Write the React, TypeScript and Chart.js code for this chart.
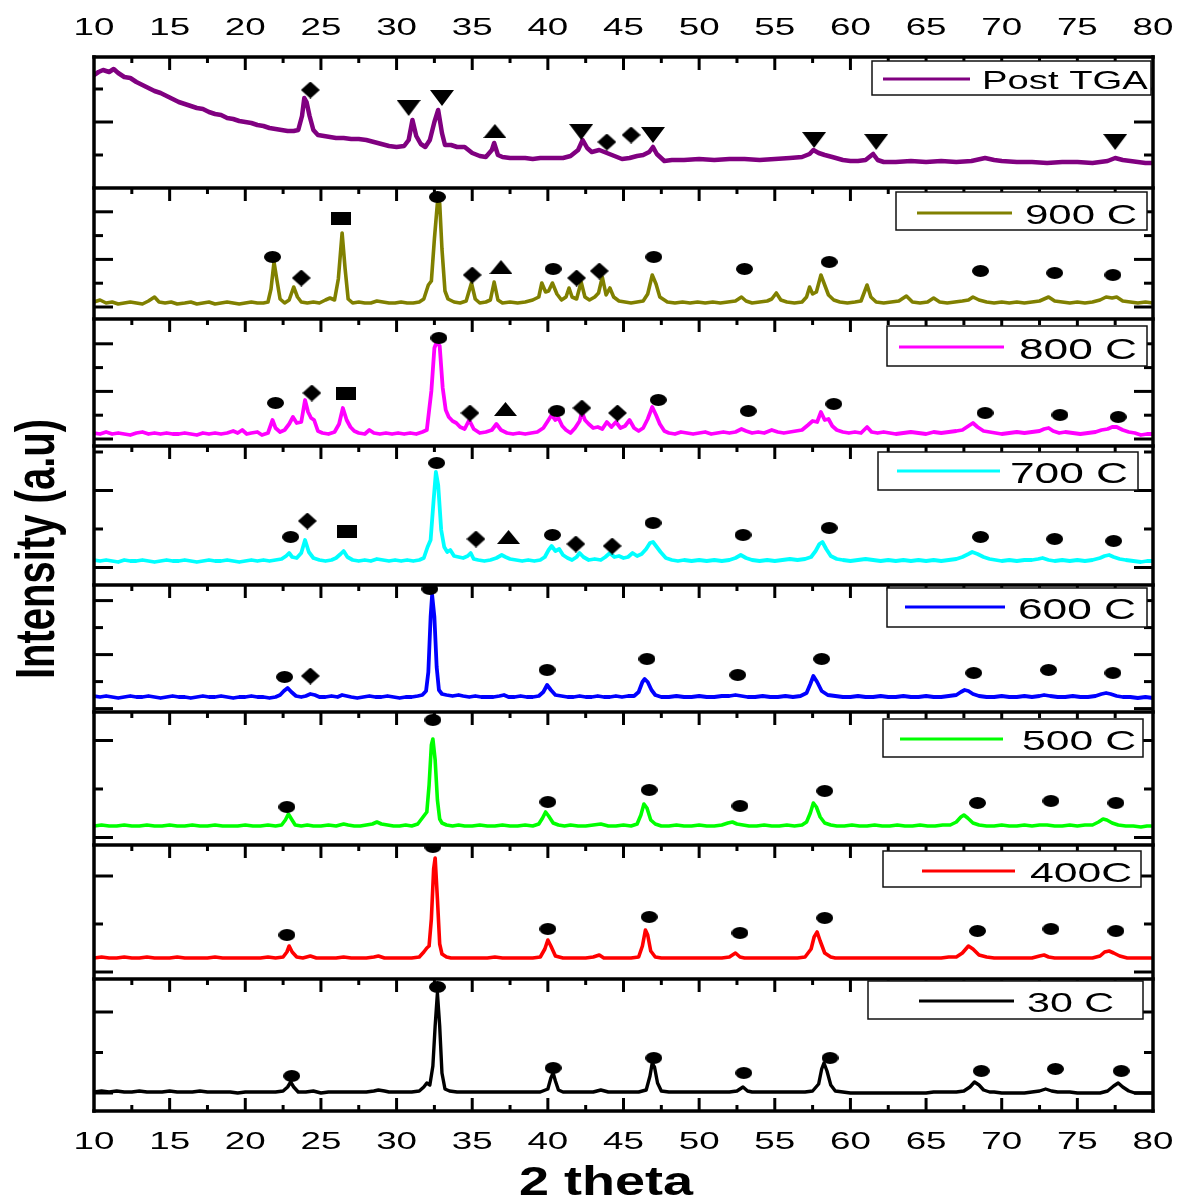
import { useEffect, useRef } from 'react';
import { Chart, registerables } from 'chart.js';

Chart.register(...registerables);

type Pt = [number, number];
type Mark = [number, number, string];

// 2θ tick labels (degrees)
const thetaTicks = [10, 15, 20, 25, 30, 35, 40, 45, 50, 55, 60, 65, 70, 75, 80];

// Diffraction patterns: [2θ, intensity a.u. above each panel's floor]
const postTGA: Pt[] = [
  [10,113],[10.3,116],[10.6,118],[11,116],[11.3,119],[11.6,115],[12,111],[12.4,110],[12.8,106],[13.2,103],[13.6,100],[14,97],[14.4,95],[14.8,92],[15.2,89],[15.6,86],[16,84],[16.4,82],[16.8,80],[17.2,79],[17.6,76],[18,74],[18.4,73],[18.8,70],[19.2,69],[19.6,67],[20,66],[20.4,65],[20.8,63],[21.2,62],[21.6,60],[22,59],[22.4,58],[22.8,57],[23.2,57],[23.5,58],[23.75,72],[23.9,90],[24.05,86],[24.25,72],[24.5,58],[24.8,53],[25.2,52],[25.6,51],[26,50],[26.5,50],[27,49],[27.5,49],[28,48],[28.5,46],[29,44],[29.5,42],[30,41],[30.5,42],[30.8,48],[31.05,68],[31.3,52],[31.6,44],[31.9,41],[32.2,48],[32.5,66],[32.75,78],[33.0,55],[33.2,43],[33.6,43],[34.0,41],[34.5,41],[35.0,35],[35.5,32],[35.9,31],[36.3,38],[36.45,45],[36.7,33],[37,31],[37.5,30],[38,30],[38.5,30],[39,29],[39.5,30],[40,30],[40.5,30],[41,30],[41.5,32],[42.0,38],[42.3,48],[42.6,40],[42.9,36],[43.4,38],[43.9,35],[44.4,32],[44.9,29],[45.4,30],[45.9,32],[46.3,33],[46.7,36],[46.95,41],[47.2,34],[47.7,27],[48.2,28],[49,28],[50,29],[51,28],[52,29],[53,29],[54,28],[55,29],[56,30],[56.8,31],[57.3,34],[57.55,38],[57.9,35],[58.3,33],[58.8,31],[59.5,28],[60,27],[60.5,27],[61,28],[61.5,34],[61.8,28],[62.2,26],[63,26],[64,27],[65,26],[66,27],[67,26],[68,27],[68.9,30],[69.5,28],[70,27],[71,26],[72,26],[73,25],[74,26],[75,26],[76,25],[77,27],[77.5,30],[78,28],[78.5,27],[79,26],[79.5,25],[80,25]
];

const c900: Pt[] = [
  [10,17],[10.4,19],[10.8,16],[11.2,17],[11.6,15],[12,16],[12.4,17],[12.8,16],[13.2,15],[13.6,18],[14.0,22],[14.3,17],[14.7,16],[15.1,17],[15.5,15],[16,16],[16.4,17],[16.8,15],[17.2,16],[17.6,17],[18,15],[18.4,16],[18.8,17],[19.2,16],[19.6,15],[20,16],[20.4,17],[20.8,16],[21.2,16],[21.5,17],[21.7,30],[21.9,57],[22.1,38],[22.3,20],[22.6,16],[22.9,19],[23.2,32],[23.45,22],[23.7,17],[24.1,16],[24.5,17],[24.9,16],[25.3,19],[25.6,21],[25.9,19],[26.15,40],[26.4,86],[26.6,50],[26.8,20],[27.1,16],[27.5,17],[27.9,16],[28.3,16],[28.7,18],[29.1,17],[29.5,16],[29.9,16],[30.3,17],[30.7,16],[31.1,16],[31.5,17],[31.8,20],[32.1,34],[32.3,38],[32.5,80],[32.7,116],[32.85,116],[33.0,70],[33.2,28],[33.4,20],[33.8,17],[34.2,16],[34.6,18],[34.95,36],[35.2,20],[35.5,16],[35.9,17],[36.2,19],[36.45,37],[36.7,19],[37.0,16],[37.5,17],[38,16],[38.5,17],[39,19],[39.4,22],[39.6,36],[39.85,27],[40.05,28],[40.3,36],[40.6,25],[40.9,19],[41.2,22],[41.4,31],[41.6,22],[41.9,20],[42.2,37],[42.45,22],[42.75,19],[43.1,22],[43.35,26],[43.6,42],[43.85,24],[44.1,31],[44.35,22],[44.7,18],[45.1,17],[45.5,16],[45.9,17],[46.3,18],[46.6,25],[46.9,44],[47.15,35],[47.4,22],[47.9,17],[48.4,16],[48.9,17],[49.4,16],[49.9,17],[50.4,16],[50.9,17],[51.4,16],[51.9,17],[52.4,18],[52.8,22],[53.1,18],[53.5,16],[54,17],[54.5,18],[54.8,20],[55.1,26],[55.4,19],[55.8,17],[56.3,16],[56.8,17],[57.1,22],[57.3,32],[57.5,25],[57.75,27],[58.05,44],[58.3,34],[58.55,24],[58.9,19],[59.3,17],[59.8,16],[60.3,17],[60.7,18],[61.1,34],[61.35,22],[61.7,17],[62.2,16],[62.7,17],[63.2,18],[63.7,23],[64.1,17],[64.6,16],[65.1,17],[65.5,21],[65.9,17],[66.4,16],[66.9,17],[67.4,18],[67.8,19],[68.1,22],[68.5,19],[69,17],[69.5,16],[70,17],[70.5,16],[71,17],[71.5,16],[72,17],[72.5,18],[73.1,22],[73.5,18],[74,17],[74.5,16],[75,17],[75.5,16],[76,17],[76.5,19],[76.9,22],[77.3,21],[77.6,22],[78,18],[78.5,17],[79,16],[79.5,17],[80,16]
];

const c800: Pt[] = [
  [10,13],[10.4,12],[10.8,14],[11.2,12],[11.6,13],[12,12],[12.4,11],[12.8,13],[13.2,14],[13.6,12],[14,13],[14.4,12],[14.8,13],[15.2,12],[15.6,12],[16,13],[16.4,12],[16.8,11],[17.2,13],[17.6,12],[18,13],[18.4,12],[18.8,13],[19.2,15],[19.5,13],[19.8,16],[20.1,12],[20.4,13],[20.8,14],[21.1,11],[21.5,13],[21.8,26],[22.0,18],[22.3,14],[22.6,16],[22.9,22],[23.15,29],[23.4,23],[23.7,24],[23.95,46],[24.15,34],[24.35,28],[24.55,26],[24.8,15],[25.1,13],[25.5,12],[25.9,14],[26.2,22],[26.45,38],[26.7,26],[26.95,19],[27.2,15],[27.5,13],[27.9,12],[28.2,16],[28.5,13],[28.9,12],[29.3,13],[29.7,12],[30.1,13],[30.5,12],[30.9,13],[31.3,12],[31.7,14],[32.0,16],[32.3,55],[32.5,98],[32.65,104],[32.85,100],[33.05,58],[33.25,36],[33.45,29],[33.7,25],[33.95,23],[34.2,19],[34.5,17],[34.8,26],[35.1,17],[35.5,13],[35.9,14],[36.3,16],[36.6,22],[36.9,16],[37.3,13],[37.7,12],[38.1,13],[38.5,12],[38.9,13],[39.3,14],[39.7,18],[40.0,25],[40.25,31],[40.5,26],[40.7,28],[40.95,20],[41.2,16],[41.5,13],[41.8,18],[42.1,25],[42.25,34],[42.45,26],[42.7,22],[43.0,18],[43.3,19],[43.6,17],[43.9,24],[44.2,19],[44.5,24],[44.8,18],[45.1,20],[45.4,26],[45.7,18],[46.0,15],[46.3,18],[46.6,27],[46.9,39],[47.15,31],[47.4,22],[47.7,15],[48,13],[48.4,12],[48.8,14],[49.2,13],[49.6,12],[50,13],[50.4,14],[50.8,12],[51.2,13],[51.6,14],[52,13],[52.4,14],[52.8,17],[53.1,15],[53.5,13],[53.9,14],[54.3,13],[54.8,16],[55.2,14],[55.6,13],[56,14],[56.4,15],[56.8,16],[57.2,21],[57.5,25],[57.8,24],[58.05,34],[58.3,26],[58.55,27],[58.8,20],[59.1,16],[59.5,14],[59.9,13],[60.3,14],[60.7,13],[61.1,19],[61.4,14],[61.8,13],[62.2,14],[62.6,13],[63,12],[63.5,13],[64,14],[64.5,13],[65,12],[65.5,14],[66,13],[66.5,14],[67,15],[67.4,16],[67.8,20],[68.1,23],[68.4,19],[68.8,15],[69.2,14],[69.6,13],[70,12],[70.5,13],[71,14],[71.5,13],[72,14],[72.5,15],[72.8,17],[73.1,18],[73.4,15],[73.8,13],[74.2,14],[74.7,13],[75.2,12],[75.7,13],[76.2,14],[76.6,16],[77,17],[77.3,19],[77.6,19],[78,16],[78.4,14],[78.8,13],[79.2,11],[79.6,12],[80,12]
];

const c700: Pt[] = [
  [10,25],[10.4,24],[10.8,25],[11.2,24],[11.6,23],[12,25],[12.4,24],[12.8,24],[13.2,25],[13.6,24],[14,23],[14.4,24],[14.8,25],[15.2,24],[15.6,24],[16,25],[16.4,24],[16.8,23],[17.2,24],[17.6,25],[18,24],[18.4,24],[18.8,25],[19.2,24],[19.6,23],[20,24],[20.4,25],[20.8,24],[21.2,25],[21.6,24],[22,25],[22.4,26],[22.7,29],[22.9,32],[23.1,28],[23.4,27],[23.7,32],[23.95,45],[24.2,33],[24.5,27],[24.9,25],[25.3,24],[25.7,25],[26.0,27],[26.3,31],[26.5,34],[26.75,28],[27.1,25],[27.5,24],[27.9,25],[28.3,24],[28.7,26],[29.1,25],[29.5,24],[29.9,25],[30.3,24],[30.7,25],[31.1,24],[31.5,25],[31.8,27],[32.05,38],[32.25,45],[32.45,85],[32.6,113],[32.75,100],[32.95,55],[33.15,38],[33.35,33],[33.55,35],[33.8,29],[34.1,28],[34.4,27],[34.7,29],[34.9,32],[35.1,26],[35.4,25],[35.8,24],[36.2,25],[36.6,27],[36.95,30],[37.2,28],[37.5,26],[37.9,25],[38.3,24],[38.7,25],[39.1,24],[39.5,25],[39.8,28],[40.05,35],[40.25,39],[40.5,34],[40.75,36],[41.0,30],[41.3,27],[41.6,25],[41.9,28],[42.1,32],[42.35,28],[42.7,25],[43.1,26],[43.5,25],[43.8,28],[44.1,32],[44.4,28],[44.7,29],[45.0,27],[45.3,28],[45.6,32],[45.9,29],[46.2,31],[46.5,36],[46.75,42],[46.95,43],[47.2,38],[47.45,33],[47.8,27],[48.2,25],[48.6,24],[49,25],[49.5,24],[50,25],[50.5,24],[51,25],[51.5,24],[52,25],[52.4,27],[52.75,30],[53.1,27],[53.5,25],[54,24],[54.5,25],[55,24],[55.5,25],[56,26],[56.5,25],[57,26],[57.4,28],[57.7,34],[57.95,41],[58.15,43],[58.4,36],[58.7,29],[59.1,26],[59.5,25],[60,24],[60.5,25],[61,26],[61.5,25],[62,24],[62.5,25],[63,24],[63.5,25],[64,24],[64.5,25],[65,24],[65.5,25],[66,24],[66.5,25],[67,26],[67.4,28],[67.8,31],[68.05,33],[68.4,31],[68.8,28],[69.2,26],[69.6,25],[70,24],[70.5,25],[71,24],[71.5,25],[72,25],[72.4,26],[72.7,27],[73.1,25],[73.5,24],[74,25],[74.5,24],[75,25],[75.5,24],[76,25],[76.5,27],[76.8,29],[77.1,30],[77.4,28],[77.8,26],[78.2,25],[78.7,24],[79.2,23],[79.6,24],[80,24]
];

const c600: Pt[] = [
  [10,16],[10.4,15],[10.8,16],[11.2,15],[11.6,14],[12,15],[12.4,16],[12.8,15],[13.2,15],[13.6,16],[14,15],[14.4,14],[14.8,15],[15.2,16],[15.6,15],[16,15],[16.4,14],[16.8,15],[17.2,16],[17.6,15],[18,15],[18.4,16],[18.8,15],[19.2,14],[19.6,15],[20,15],[20.4,16],[20.8,15],[21.2,15],[21.6,14],[22,15],[22.3,17],[22.55,21],[22.8,24],[23.05,20],[23.35,16],[23.7,15],[24.0,16],[24.3,18],[24.6,17],[24.9,15],[25.3,15],[25.7,16],[26.1,15],[26.4,17],[26.7,16],[27.0,15],[27.4,14],[27.8,15],[28.2,16],[28.6,15],[29,15],[29.4,16],[29.8,15],[30.2,14],[30.6,15],[31,15],[31.4,16],[31.7,17],[31.95,21],[32.1,40],[32.25,95],[32.35,117],[32.5,95],[32.65,45],[32.8,22],[33.0,18],[33.3,17],[33.7,16],[34.1,17],[34.4,16],[34.8,15],[35.2,16],[35.6,15],[36.0,15],[36.4,15],[36.8,16],[37.1,17],[37.4,15],[37.8,15],[38.2,16],[38.6,15],[39.0,15],[39.4,16],[39.7,20],[39.95,27],[40.2,22],[40.5,17],[40.9,16],[41.3,15],[41.7,15],[42.1,16],[42.5,15],[42.9,15],[43.3,16],[43.7,15],[44.1,15],[44.5,16],[44.9,15],[45.3,16],[45.7,16],[46.0,20],[46.25,30],[46.4,33],[46.6,30],[46.85,22],[47.1,17],[47.5,15],[48,15],[48.5,16],[49,15],[49.5,15],[50,16],[50.5,15],[51,15],[51.5,16],[52,16],[52.4,17],[52.8,16],[53.2,15],[53.7,15],[54.2,16],[54.7,15],[55.2,15],[55.7,16],[56.2,15],[56.7,16],[57.1,19],[57.35,28],[57.55,36],[57.8,30],[58.1,21],[58.5,17],[59,16],[59.5,15],[60,15],[60.5,16],[61,15],[61.5,15],[62,16],[62.5,15],[63,15],[63.5,16],[64,15],[64.5,15],[65,16],[65.5,15],[66,15],[66.5,16],[67,17],[67.3,20],[67.55,22],[67.8,21],[68.1,18],[68.5,16],[69,15],[69.5,15],[70,16],[70.5,15],[71,15],[71.5,16],[72,15],[72.5,16],[72.8,17],[73.2,16],[73.7,15],[74.2,15],[74.7,16],[75.2,15],[75.7,15],[76.2,16],[76.6,18],[76.9,19],[77.2,18],[77.6,16],[78,15],[78.5,15],[79,14],[79.5,15],[80,14]
];

const c500: Pt[] = [
  [10,19],[10.5,20],[11,19],[11.5,19],[12,20],[12.5,19],[13,19],[13.5,20],[14,19],[14.5,19],[15,20],[15.5,19],[16,19],[16.5,20],[17,19],[17.5,19],[18,20],[18.5,19],[19,19],[19.5,19],[20,20],[20.5,19],[21,19],[21.5,20],[22,19],[22.4,20],[22.65,25],[22.85,31],[23.05,26],[23.3,20],[23.7,19],[24.1,20],[24.5,19],[25,19],[25.5,20],[26,19],[26.5,21],[26.8,20],[27.2,19],[27.6,19],[28,20],[28.4,21],[28.7,23],[29.0,21],[29.4,20],[29.8,19],[30.2,19],[30.6,20],[31.0,19],[31.4,21],[31.7,27],[31.85,30],[32.0,33],[32.15,60],[32.3,100],[32.4,106],[32.55,85],[32.7,45],[32.85,26],[33.0,22],[33.3,20],[33.7,19],[34.1,20],[34.5,19],[35,19],[35.5,20],[36,19],[36.5,19],[37,20],[37.5,19],[38,19],[38.5,20],[39,19],[39.4,21],[39.65,27],[39.85,33],[40.05,29],[40.35,22],[40.7,20],[41.1,19],[41.5,20],[42,19],[42.5,19],[43,20],[43.5,21],[44,19],[44.5,19],[45,20],[45.5,19],[45.9,21],[46.15,30],[46.35,41],[46.55,37],[46.8,25],[47.1,21],[47.5,19],[48,19],[48.5,20],[49,19],[49.5,19],[50,20],[50.5,19],[51,19],[51.5,20],[51.9,22],[52.2,23],[52.5,21],[52.9,20],[53.3,19],[53.8,19],[54.3,20],[54.8,19],[55.3,19],[55.8,20],[56.3,19],[56.8,20],[57.1,23],[57.35,32],[57.55,42],[57.75,38],[58.0,28],[58.3,22],[58.7,20],[59.1,19],[59.6,19],[60.1,20],[60.6,19],[61.1,19],[61.6,20],[62.1,19],[62.6,19],[63.1,20],[63.6,19],[64.1,19],[64.6,20],[65.1,19],[65.6,19],[66.1,20],[66.6,20],[67.0,23],[67.3,28],[67.5,30],[67.75,27],[68.1,22],[68.5,20],[69,19],[69.5,19],[70,20],[70.5,19],[71,19],[71.5,20],[72,19],[72.5,20],[73,20],[73.5,19],[74,19],[74.5,20],[75,19],[75.5,20],[76,20],[76.4,23],[76.7,26],[76.95,25],[77.3,22],[77.7,20],[78.2,19],[78.7,19],[79.2,18],[79.6,19],[80,19]
];

const c400: Pt[] = [
  [10,21],[10.5,22],[11,21],[11.5,21],[12,22],[12.5,21],[13,21],[13.5,22],[14,21],[14.5,21],[15,21],[15.5,22],[16,21],[16.5,21],[17,21],[17.5,21],[18,22],[18.5,21],[19,21],[19.5,21],[20,21],[20.5,21],[21,21],[21.5,22],[22,21],[22.5,22],[22.75,27],[22.9,33],[23.1,27],[23.4,22],[23.8,21],[24.3,23],[24.7,21],[25,21],[25.5,21],[26,21],[26.5,22],[27,21],[27.5,21],[28,21],[28.5,22],[28.8,23],[29.2,21],[29.5,21],[30,21],[30.5,21],[31,21],[31.5,22],[31.8,27],[32.0,31],[32.15,33],[32.3,60],[32.45,110],[32.55,121],[32.7,80],[32.85,35],[33.0,25],[33.3,22],[33.6,21],[34,21],[34.5,21],[35,21],[35.5,21],[36,21],[36.5,22],[37,21],[37.5,21],[38,21],[38.5,21],[39,21],[39.5,22],[39.8,30],[40.0,39],[40.2,33],[40.5,23],[41,21],[41.5,21],[42,21],[42.5,21],[43,22],[43.4,24],[43.7,21],[44,21],[44.5,21],[45,21],[45.5,21],[46,22],[46.25,33],[46.45,49],[46.6,44],[46.8,28],[47.1,22],[47.5,21],[48,21],[48.5,21],[49,21],[49.5,21],[50,21],[50.5,21],[51,21],[51.5,21],[52,22],[52.4,26],[52.7,22],[53,21],[53.5,21],[54,21],[54.5,21],[55,21],[55.5,21],[56,21],[56.5,21],[57,22],[57.4,30],[57.6,42],[57.8,47],[58.0,38],[58.3,26],[58.7,22],[59,21],[59.5,21],[60,21],[60.5,21],[61,21],[61.5,21],[62,21],[62.5,21],[63,21],[63.5,21],[64,21],[64.5,21],[65,21],[65.5,21],[66,21],[66.5,22],[67,22],[67.4,26],[67.8,33],[68.1,30],[68.5,24],[69,22],[69.5,21],[70,21],[70.5,21],[71,21],[71.5,21],[72,21],[72.5,23],[72.8,24],[73.1,22],[73.5,21],[74,21],[74.5,21],[75,21],[75.5,21],[76,21],[76.5,23],[76.8,27],[77.1,28],[77.4,26],[77.8,23],[78.3,21],[79,21],[79.5,21],[80,21]
];

const c30: Pt[] = [
  [10,19],[10.5,20],[11,19],[11.5,20],[12,19],[12.5,19],[13,20],[13.5,19],[14,19],[14.5,19],[15,20],[15.5,19],[16,19],[16.5,19],[17,20],[17.5,19],[18,19],[18.5,19],[19,19],[19.5,18],[20,19],[20.5,19],[21,19],[21.5,19],[22,19],[22.5,20],[22.8,24],[23.0,29],[23.2,24],[23.5,19],[24,19],[24.5,20],[25,18],[25.5,19],[26,19],[26.5,19],[27,19],[27.5,19],[28,19],[28.5,20],[28.8,21],[29.2,20],[29.5,19],[30,19],[30.5,19],[31,19],[31.5,20],[31.8,24],[32.0,28],[32.2,26],[32.4,45],[32.55,85],[32.7,118],[32.85,85],[33.0,38],[33.2,22],[33.5,20],[34,19],[34.5,19],[35,19],[35.5,19],[36,19],[36.5,19],[37,19],[37.5,19],[38,19],[38.5,19],[39,19],[39.5,19],[40.0,22],[40.2,33],[40.35,38],[40.5,30],[40.7,21],[41,19],[41.5,19],[42,19],[42.5,19],[43,19],[43.5,21],[44,19],[44.5,19],[45,19],[45.5,19],[46,19],[46.5,21],[46.75,35],[46.9,48],[47.05,44],[47.25,28],[47.5,20],[48,19],[48.5,19],[49,19],[49.5,19],[50,19],[50.5,19],[51,19],[51.5,19],[52,19],[52.5,20],[52.9,24],[53.2,20],[53.5,19],[54,19],[54.5,19],[55,19],[55.5,19],[56,19],[56.5,19],[57,19],[57.5,20],[57.9,27],[58.1,42],[58.25,48],[58.45,40],[58.7,26],[59,20],[59.5,19],[60,18],[60.5,18],[61,18],[61.5,18],[62,18],[62.5,18],[63,18],[63.5,18],[64,18],[64.5,18],[65,18],[65.5,19],[66,19],[66.5,19],[67,19],[67.5,20],[67.9,24],[68.2,29],[68.5,26],[68.8,21],[69.2,19],[69.5,19],[70,18],[70.5,18],[71,18],[71.5,18],[72,19],[72.5,20],[72.9,22],[73.3,20],[73.7,19],[74,19],[74.5,19],[75,18],[75.5,18],[76,18],[76.5,18],[77,20],[77.4,25],[77.7,28],[78.0,24],[78.4,20],[78.8,18],[79.2,18],[79.6,18],[80,18]
];

// Phase markers: [2θ, height, symbol]  o = circle, d = diamond, s = square, u = triangle up, v = triangle down
const marksTGA: Mark[] = [
  [24.3,98,'d'],[30.8,80,'v'],[33.0,90,'v'],[36.5,57,'u'],[42.2,56,'v'],[43.9,46,'d'],[45.5,53,'d'],[46.95,53,'v'],[57.6,48,'v'],[61.7,46,'v'],[77.5,46,'v']
];
const marks900: Mark[] = [
  [21.8,62,'o'],[23.7,41,'d'],[26.3,101,'s'],[32.7,122,'o'],[35.0,44,'d'],[36.9,52,'u'],[40.35,50,'o'],[41.9,41,'d'],[43.4,48,'d'],[47.0,62,'o'],[53.0,50,'o'],[58.6,57,'o'],[68.6,48,'o'],[73.5,46,'o'],[77.35,44,'o']
];
const marks800: Mark[] = [
  [22.0,43,'o'],[24.4,53,'d'],[26.65,53,'s'],[32.8,108,'o'],[34.85,33,'d'],[37.2,37,'u'],[40.6,35,'o'],[42.25,38,'d'],[44.6,33,'d'],[47.3,46,'o'],[53.25,35,'o'],[58.9,42,'o'],[68.9,33,'o'],[73.85,31,'o'],[77.7,29,'o']
];
const marks700: Mark[] = [
  [23.0,48,'o'],[24.1,64,'d'],[26.7,54,'s'],[32.65,122,'o'],[35.25,46,'d'],[37.4,48,'u'],[40.3,50,'o'],[41.85,41,'d'],[44.25,39,'d'],[46.95,62,'o'],[52.9,50,'o'],[58.6,57,'o'],[68.6,48,'o'],[73.5,46,'o'],[77.4,44,'o']
];
const marks600: Mark[] = [
  [22.6,35,'o'],[24.3,36,'d'],[32.2,123,'o'],[39.95,42,'o'],[46.55,53,'o'],[52.55,37,'o'],[58.1,53,'o'],[68.15,39,'o'],[73.1,42,'o'],[77.35,39,'o']
];
const marks500: Mark[] = [
  [22.75,38,'o'],[32.4,125,'o'],[40.0,43,'o'],[46.7,55,'o'],[52.7,39,'o'],[58.3,54,'o'],[68.4,42,'o'],[73.25,44,'o'],[77.55,42,'o']
];
const marks400: Mark[] = [
  [22.75,44,'o'],[32.4,132,'o'],[40.0,50,'o'],[46.7,62,'o'],[52.7,46,'o'],[58.3,61,'o'],[68.4,48,'o'],[73.25,50,'o'],[77.55,48,'o']
];
const marks30: Mark[] = [
  [23.07,35,'o'],[32.7,124,'o'],[40.35,43,'o'],[47.0,53,'o'],[52.95,38,'o'],[58.65,53,'o'],[68.65,40,'o'],[73.55,42,'o'],[77.9,40,'o']
];

const seriesNames = ['Post TGA', '900 C', '800 C', '700 C', '600 C', '500 C', '400C', '30 C'];

// Panel layout, top to bottom
const PANELS = [
  { id: 'yTGA', name: seriesNames[0], data: postTGA, marks: marksTGA, color: '#800080', width: 4.5, height: 131, tickStart: 0, tickStep: 33,
    legend: { box: [872, 61, 1151, 95], line: [883, 970, 79], textX: 982, size: 25.5 } },
  { id: 'y900', name: seriesNames[1], data: c900, marks: marks900, color: '#808000', width: 3.6, height: 131, tickStart: 12, tickStep: 23.8,
    legend: { box: [896, 192, 1147, 230], line: [917, 1012, 213], textX: 1025, size: 28 } },
  { id: 'y800', name: seriesNames[2], data: c800, marks: marks800, color: '#FF00FF', width: 3.8, height: 127, tickStart: 7, tickStep: 23.8,
    legend: { box: [887, 326, 1147, 366], line: [899, 1004, 347], textX: 1019, size: 29.5 } },
  { id: 'y700', name: seriesNames[3], data: c700, marks: marks700, color: '#00FFFF', width: 3.8, height: 139, tickStart: 17.5, tickStep: 38.5,
    legend: { box: [878, 452, 1138, 490], line: [897, 1000, 471], textX: 1010, size: 29.5 } },
  { id: 'y600', name: seriesNames[4], data: c600, marks: marks600, color: '#0000FF', width: 3.8, height: 127, tickStart: 3.4, tickStep: 27,
    legend: { box: [887, 588, 1147, 627], line: [905, 1005, 607], textX: 1018, size: 29.5 } },
  { id: 'y500', name: seriesNames[5], data: c500, marks: marks500, color: '#00FF00', width: 3.6, height: 133, tickStart: 7.5, tickStep: 48.5,
    legend: { box: [883, 719, 1143, 757], line: [900, 1003, 739], textX: 1022, size: 28.5 } },
  { id: 'y400', name: seriesNames[6], data: c400, marks: marks400, color: '#FF0000', width: 3.6, height: 134, tickStart: 7, tickStep: 48,
    legend: { box: [883, 851, 1141, 887], line: [922, 1015, 871], textX: 1030, size: 28.5 } },
  { id: 'y30', name: seriesNames[7], data: c30, marks: marks30, color: '#000000', width: 3.4, height: 132, tickStart: 18, tickStep: 40.5,
    legend: { box: [868, 981, 1143, 1019], line: [919, 1014, 1001], textX: 1027, size: 27.5 } },
];

const FONT = '"Liberation Sans", Arial, sans-serif';
const SHAPES = ['o', 'd', 's', 'u', 'v'];
const GLYPH_SIZE: Record<string, [number, number]> = { o: [17, 12], d: [19, 17], s: [20, 13], u: [23, 14], v: [24, 16] };

function makeGlyph(kind: string): HTMLCanvasElement {
  const [w, h] = GLYPH_SIZE[kind];
  const c = document.createElement('canvas');
  c.width = w;
  c.height = h;
  const g = c.getContext('2d')!;
  g.fillStyle = '#000';
  g.beginPath();
  if (kind === 'o') {
    g.ellipse(w / 2, h / 2, w / 2, h / 2, 0, 0, Math.PI * 2);
  } else if (kind === 'd') {
    g.moveTo(w / 2, 0); g.lineTo(w, h / 2); g.lineTo(w / 2, h); g.lineTo(0, h / 2);
  } else if (kind === 's') {
    g.rect(0, 0, w, h);
  } else if (kind === 'u') {
    g.moveTo(w / 2, 0); g.lineTo(w, h); g.lineTo(0, h);
  } else {
    g.moveTo(0, 0); g.lineTo(w, 0); g.lineTo(w / 2, h);
  }
  g.closePath();
  g.fill();
  return c;
}

function wideText(ctx: CanvasRenderingContext2D, text: string, x: number, y: number, font: string, sx: number, align: CanvasTextAlign) {
  ctx.save();
  ctx.font = font;
  ctx.textAlign = align;
  ctx.textBaseline = 'alphabetic';
  ctx.fillStyle = '#000';
  ctx.translate(x, y);
  ctx.scale(sx, 1);
  ctx.fillText(text, 0, 0);
  ctx.restore();
}

function seg(ctx: CanvasRenderingContext2D, x1: number, y1: number, x2: number, y2: number) {
  ctx.beginPath();
  ctx.moveTo(x1, y1);
  ctx.lineTo(x2, y2);
  ctx.stroke();
}

const framePlugin = {
  id: 'xrdFrame',
  afterDatasetsDraw(chart: any) {
    const ctx: CanvasRenderingContext2D = chart.ctx;
    const { left, right, top, bottom } = chart.chartArea;
    const xs = chart.scales.x;
    ctx.save();
    ctx.strokeStyle = '#000';
    ctx.lineCap = 'butt';

    PANELS.forEach((p, i) => {
      const ys = chart.scales[p.id];
      // panel top border
      ctx.lineWidth = 3.5;
      seg(ctx, left - 1.75, ys.top, right + 1.75, ys.top);
      // 2θ ticks hanging from the panel top
      ctx.lineWidth = 3;
      for (let t = 12.5; t < 80; t += 2.5) {
        const px = xs.getPixelForValue(t);
        const len = t % 5 === 0 ? 13 : 6;
        seg(ctx, px, ys.top, px, ys.top + len);
        if (i === PANELS.length - 1) seg(ctx, px, ys.bottom, px, ys.bottom - len);
      }
      // intensity ticks on both sides
      for (let k = 0; ; k++) {
        const v = p.tickStart + k * p.tickStep;
        if (v > p.height - 2) break;
        if (v < 2) continue;
        const py = ys.getPixelForValue(v);
        const len = k % 2 === 0 ? 19 : 9;
        seg(ctx, left, py, left + len, py);
        seg(ctx, right, py, right - len, py);
      }
    });

    // outer frame
    ctx.lineWidth = 3.5;
    seg(ctx, left - 1.75, bottom, right + 1.75, bottom);
    seg(ctx, left, top - 1.75, left, bottom + 1.75);
    seg(ctx, right, top - 1.75, right, bottom + 1.75);

    // legends
    PANELS.forEach((p) => {
      const [bl, bt, br, bb] = p.legend.box;
      ctx.fillStyle = '#fff';
      ctx.fillRect(bl, bt, br - bl, bb - bt);
      ctx.lineWidth = 1.5;
      ctx.strokeStyle = '#111';
      ctx.strokeRect(bl, bt, br - bl, bb - bt);
      const [lx1, lx2, ly] = p.legend.line;
      ctx.strokeStyle = p.color;
      ctx.lineWidth = 3;
      seg(ctx, lx1, ly, lx2, ly);
      wideText(ctx, p.name, p.legend.textX, ly + p.legend.size * 0.39, `${p.legend.size}px ${FONT}`, 1.5, 'left');
    });

    // 2θ tick labels, top and bottom
    thetaTicks.forEach((t) => {
      const px = xs.getPixelForValue(t);
      wideText(ctx, String(t), px, 35, `24.5px ${FONT}`, 1.5, 'center');
      wideText(ctx, String(t), px, 1149, `24.5px ${FONT}`, 1.5, 'center');
    });

    // axis titles
    wideText(ctx, '2 theta', 606, 1195, `bold 40px ${FONT}`, 1.35, 'center');
    ctx.save();
    ctx.font = `bold 40px ${FONT}`;
    ctx.fillStyle = '#000';
    ctx.textAlign = 'center';
    ctx.textBaseline = 'middle';
    ctx.translate(39, 549);
    ctx.scale(1.37, 1);
    ctx.rotate(-Math.PI / 2);
    ctx.fillText('Intensity (a.u)', 0, 0);
    ctx.restore();

    ctx.restore();
  },
};

export default function App() {
  const ref = useRef<HTMLCanvasElement>(null);

  useEffect(() => {
    const canvas = ref.current;
    if (!canvas) return;
    const glyphs: Record<string, HTMLCanvasElement> = {};
    SHAPES.forEach((s) => { glyphs[s] = makeGlyph(s); });

    const scales: any = {
      x: { type: 'linear', min: 10, max: 80, display: false },
    };
    const datasets: any[] = [];
    PANELS.forEach((p, i) => {
      scales[p.id] = {
        type: 'linear', min: 0, max: p.height, display: false, position: 'left',
        stack: 'xrd', stackWeight: p.height, weight: PANELS.length - i, offset: false,
      };
      datasets.push({
        label: p.name, data: p.data, xAxisID: 'x', yAxisID: p.id,
        borderColor: p.color, borderWidth: p.width, borderJoinStyle: 'round', pointRadius: 0, tension: 0, fill: false, order: 2,
      });
      SHAPES.forEach((s) => {
        const pts = p.marks.filter((m) => m[2] === s).map((m) => [m[0], m[1]]);
        if (!pts.length) return;
        datasets.push({
          label: `${p.name} ${s}`, data: pts, xAxisID: 'x', yAxisID: p.id, showLine: false,
          pointStyle: glyphs[s], pointRadius: 6, pointHoverRadius: 6, order: 1,
        });
      });
    });

    const chart = new Chart(canvas, {
      type: 'line',
      data: { datasets },
      options: {
        responsive: false,
        animation: false,
        events: [],
        layout: { padding: { left: 94, right: 25, top: 57, bottom: 88 } },
        plugins: { legend: { display: false }, tooltip: { enabled: false } },
        scales,
      },
      plugins: [framePlugin],
    } as any);
    return () => chart.destroy();
  }, []);

  return (
    <div style={{ position: 'absolute', left: 0, top: 0, width: 1178, height: 1199, background: '#fff' }}>
      <canvas ref={ref} width={1178} height={1199} style={{ display: 'block' }} />
    </div>
  );
}
